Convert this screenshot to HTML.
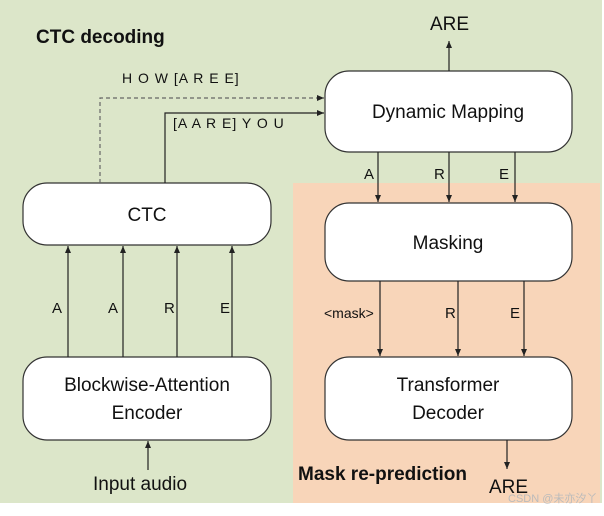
<!DOCTYPE html>
<html><head><style>
body{margin:0;width:604px;height:511px;background:#fff;overflow:hidden;font-family:"Liberation Sans",sans-serif}
</style></head><body>
<svg width="604" height="511" xmlns="http://www.w3.org/2000/svg" font-family="Liberation Sans, sans-serif">
<defs><marker id="a" markerWidth="8" markerHeight="8" refX="7" refY="4" orient="auto" markerUnits="userSpaceOnUse"><path d="M0,1 L7,4 L0,7z" fill="#222"/></marker></defs>
<rect x="0" y="0" width="602" height="503" fill="#dce6c9"/>
<rect x="293" y="183" width="307" height="320" fill="#f8d5b9"/>
<g fill="#fff" stroke="#333" stroke-width="1.2">
<rect x="325" y="71" width="247" height="81" rx="24"/>
<rect x="23" y="183" width="248" height="62" rx="24"/>
<rect x="325" y="203" width="247" height="78" rx="24"/>
<rect x="325" y="357" width="247" height="83" rx="24"/>
<rect x="23" y="357" width="248" height="83" rx="24"/>
</g>
<g stroke="#222" stroke-width="1.2" fill="none" marker-end="url(#a)">
<line x1="449" y1="71" x2="449" y2="41"/>
<path d="M100 183 V98 H324" stroke-dasharray="4,3" stroke="#666"/>
<path d="M165 183 V113 H324"/>
<line x1="378" y1="152" x2="378" y2="202"/>
<line x1="449" y1="152" x2="449" y2="202"/>
<line x1="515" y1="152" x2="515" y2="202"/>
<line x1="380" y1="281" x2="380" y2="356"/>
<line x1="458" y1="281" x2="458" y2="356"/>
<line x1="524" y1="281" x2="524" y2="356"/>
<line x1="507" y1="440" x2="507" y2="469"/>
<line x1="68" y1="357" x2="68" y2="246"/>
<line x1="123" y1="357" x2="123" y2="246"/>
<line x1="177" y1="357" x2="177" y2="246"/>
<line x1="232" y1="357" x2="232" y2="246"/>
<line x1="148" y1="470" x2="148" y2="441"/>
</g>
<g fill="#111">
<text x="36" y="43" font-size="19" font-weight="bold">CTC decoding</text>
<text x="430" y="30" font-size="19">ARE</text>
<text x="122" y="83" font-size="14" letter-spacing="1">H O W [A R E E]</text>
<text x="173" y="128" font-size="14" letter-spacing="1">[A A R E] Y O U</text>
<text x="448" y="118" font-size="19" text-anchor="middle">Dynamic Mapping</text>
<text x="147" y="221" font-size="19" text-anchor="middle">CTC</text>
<text x="448" y="249" font-size="19" text-anchor="middle">Masking</text>
<text x="448" y="391" font-size="19" text-anchor="middle">Transformer</text>
<text x="448" y="419" font-size="19" text-anchor="middle">Decoder</text>
<text x="147" y="391" font-size="19" text-anchor="middle">Blockwise-Attention</text>
<text x="147" y="419" font-size="19" text-anchor="middle">Encoder</text>
<text x="364" y="179" font-size="15">A</text>
<text x="434" y="179" font-size="15">R</text>
<text x="499" y="179" font-size="15">E</text>
<text x="324" y="318" font-size="14">&lt;mask&gt;</text>
<text x="445" y="318" font-size="15">R</text>
<text x="510" y="318" font-size="15">E</text>
<text x="52" y="313" font-size="15">A</text>
<text x="108" y="313" font-size="15">A</text>
<text x="164" y="313" font-size="15">R</text>
<text x="220" y="313" font-size="15">E</text>
<text x="298" y="480" font-size="19" font-weight="bold">Mask re-prediction</text>
<text x="489" y="493" font-size="19">ARE</text>
<text x="93" y="490" font-size="19">Input audio</text>
<text x="508" y="502" font-size="11" fill="#bbb">CSDN @未亦汐丫</text>
</g>
</svg>
</body></html>
